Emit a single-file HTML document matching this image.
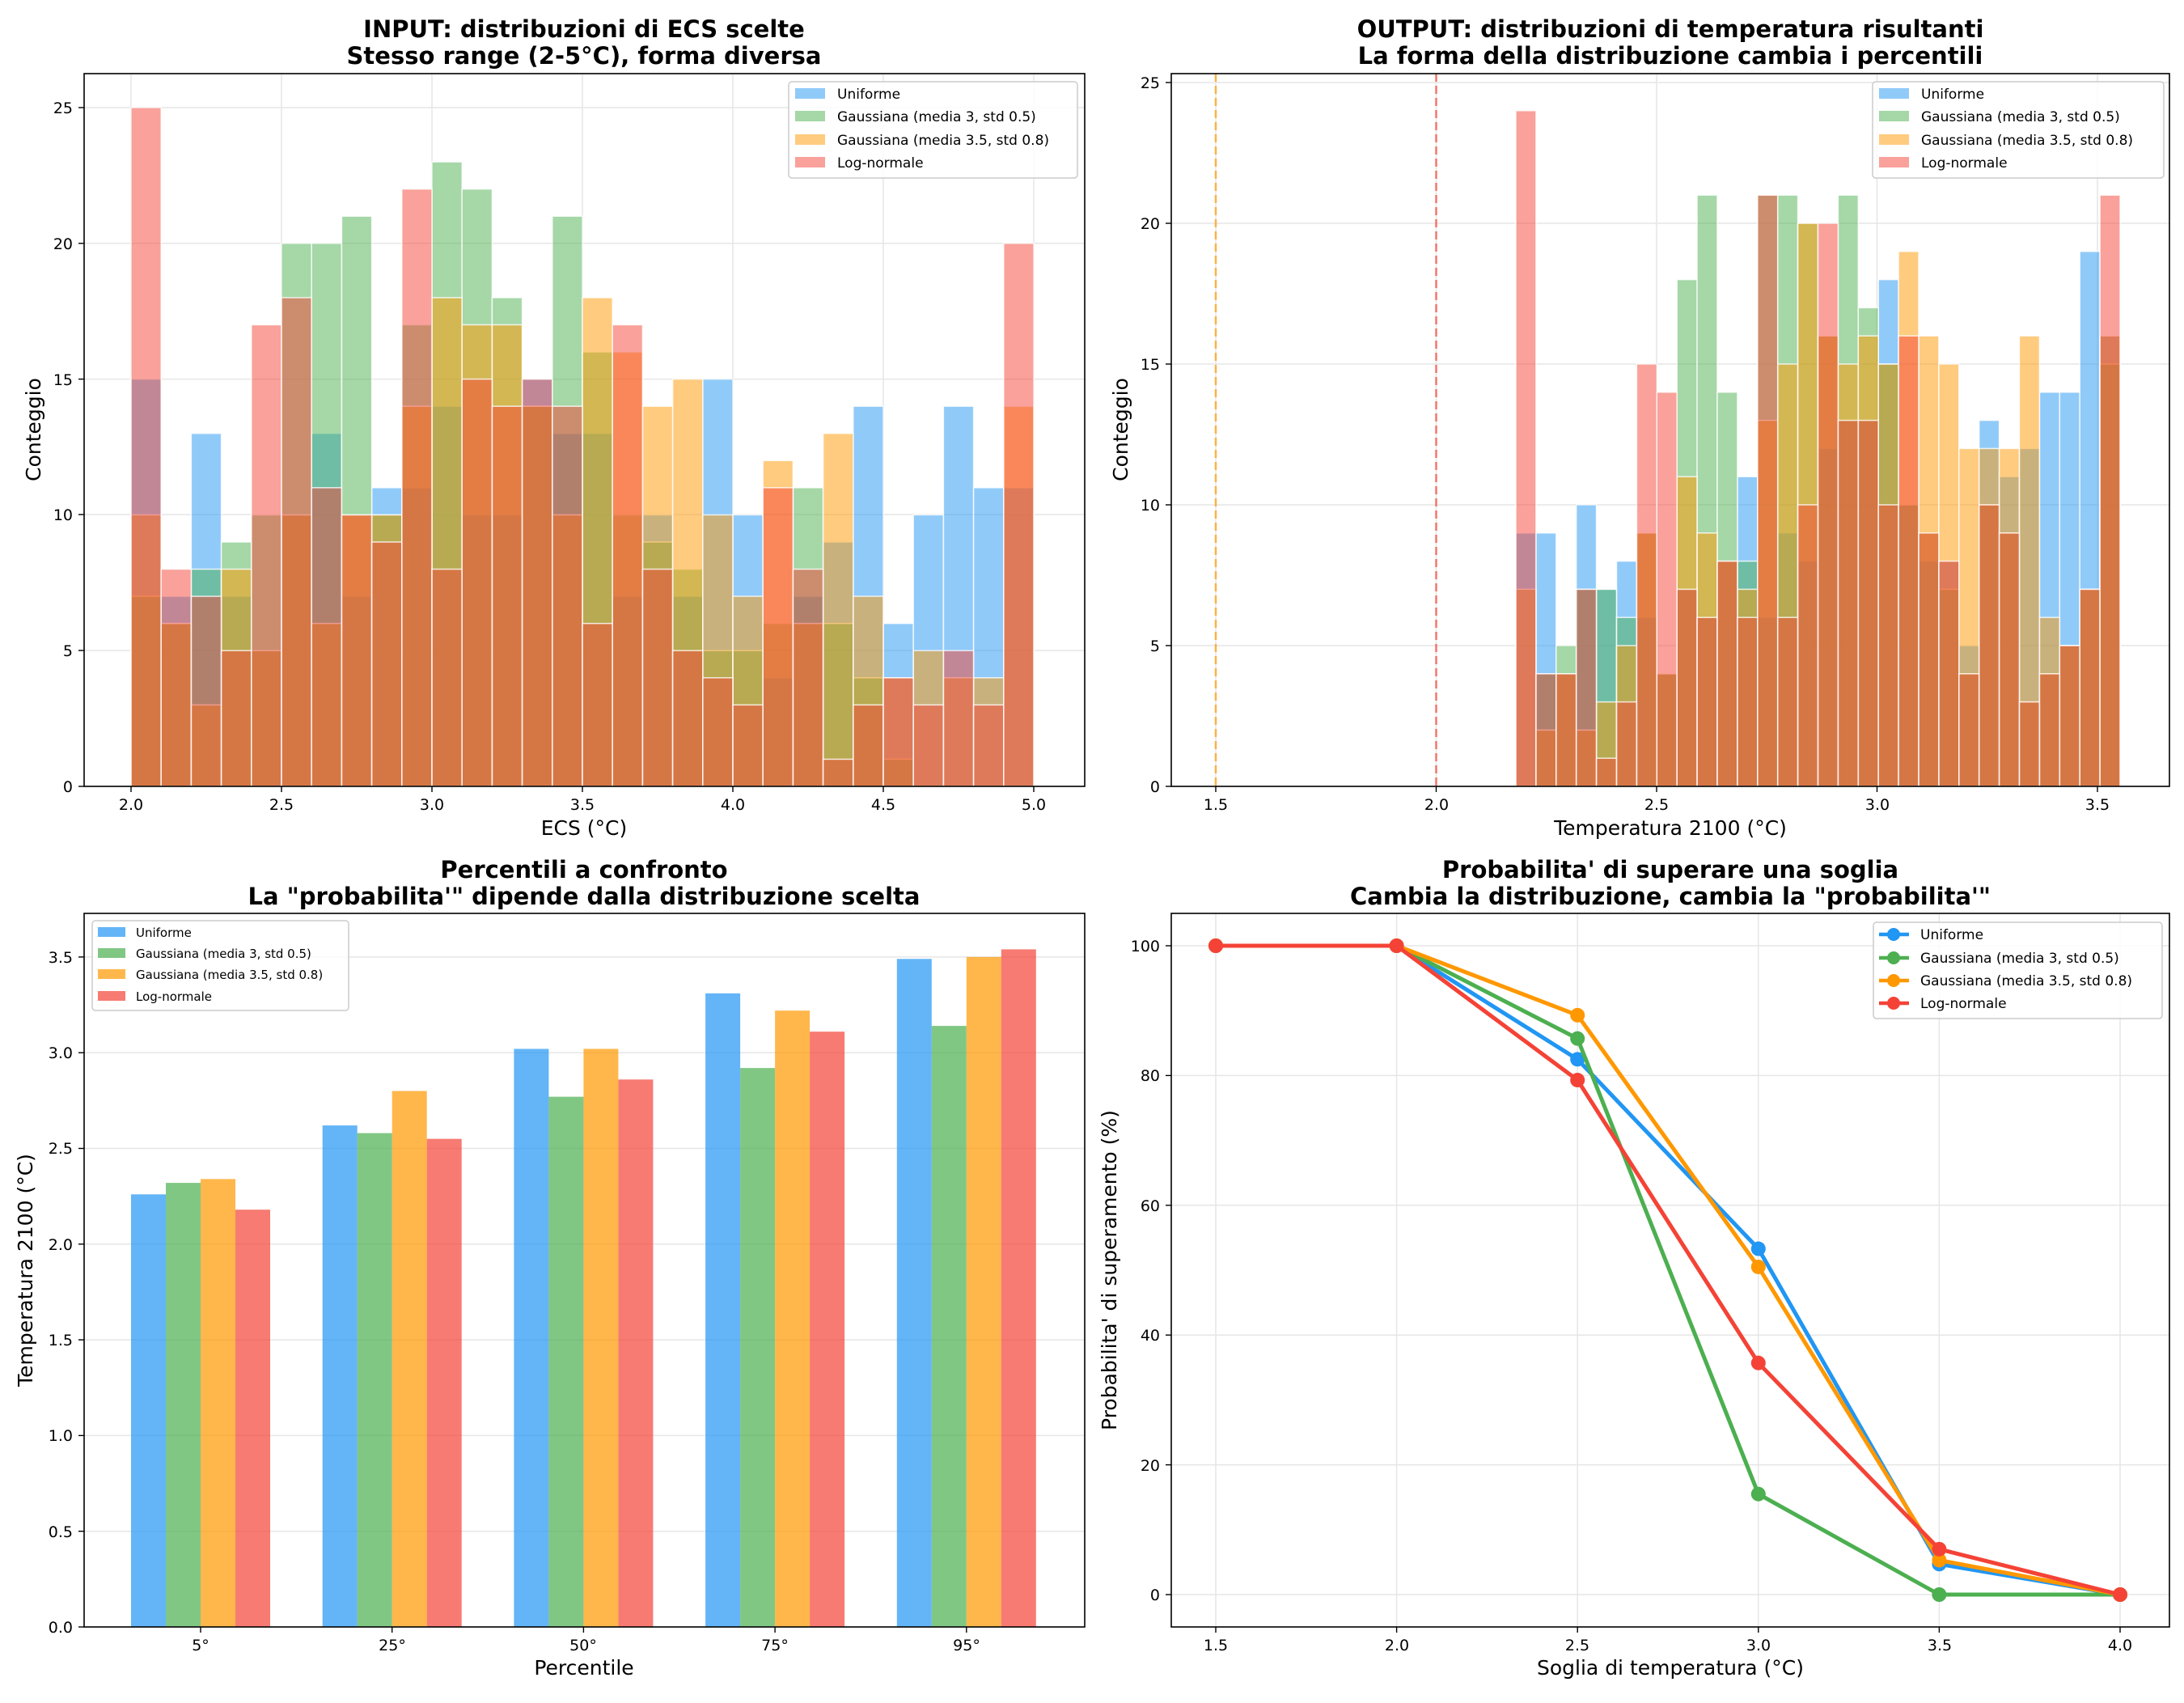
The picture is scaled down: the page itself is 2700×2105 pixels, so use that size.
<!DOCTYPE html>
<html><head><meta charset="utf-8"><style>
html,body{margin:0;padding:0;background:#fff}
svg text{font-family:"DejaVu Sans","Liberation Sans",sans-serif;fill:#000}
.t{font-size:29px;font-weight:bold;text-anchor:middle}
.al{font-size:25px;text-anchor:middle}
.tx{font-size:19px;text-anchor:middle}
.ty{font-size:19px;text-anchor:end}
.lg{font-size:17px}
</style></head><body>
<svg id="s" width="2700" height="2100" xmlns="http://www.w3.org/2000/svg">
<rect width="2700" height="2100" fill="#fff"/>
<g id="grid"></g>
<g id="data"></g>
<g fill="none" stroke="#000" stroke-width="1.6">
<rect x="104" y="91" width="1237" height="881"/>
<rect x="1448" y="91" width="1234" height="881"/>
<rect x="104" y="1129" width="1237" height="882"/>
<rect x="1448" y="1129" width="1234" height="882"/>
</g>
<g id="ticks" stroke="#000" stroke-width="1.4"></g>

<text class="t" x="722" y="46">INPUT: distribuzioni di ECS scelte</text>
<text class="t" x="722" y="79">Stesso range (2-5°C), forma diversa</text>
<text class="t" x="2065" y="46">OUTPUT: distribuzioni di temperatura risultanti</text>
<text class="t" x="2065" y="79">La forma della distribuzione cambia i percentili</text>
<text class="t" x="722" y="1085">Percentili a confronto</text>
<text class="t" x="722" y="1118">La "probabilita'" dipende dalla distribuzione scelta</text>
<text class="t" x="2065" y="1085">Probabilita' di superare una soglia</text>
<text class="t" x="2065" y="1118">Cambia la distribuzione, cambia la "probabilita'"</text>

<text class="al" x="722" y="1032">ECS (°C)</text>
<text class="al" transform="translate(50,531) rotate(-90)">Conteggio</text>
<text class="al" x="2065" y="1032">Temperatura 2100 (°C)</text>
<text class="al" transform="translate(1394,531) rotate(-90)">Conteggio</text>
<text class="al" x="722" y="2070">Percentile</text>
<text class="al" transform="translate(40,1570) rotate(-90)">Temperatura 2100 (°C)</text>
<text class="al" x="2065" y="2070">Soglia di temperatura (°C)</text>
<text class="al" transform="translate(1380,1570) rotate(-90)">Probabilita' di superamento (%)</text>

<text class="tx" x="162" y="1001">2.0</text><text class="tx" x="348" y="1001">2.5</text><text class="tx" x="534" y="1001">3.0</text><text class="tx" x="720" y="1001">3.5</text><text class="tx" x="906" y="1001">4.0</text><text class="tx" x="1092" y="1001">4.5</text><text class="tx" x="1278" y="1001">5.0</text>
<text class="ty" x="90" y="979">0</text><text class="ty" x="90" y="811">5</text><text class="ty" x="90" y="643">10</text><text class="ty" x="90" y="476">15</text><text class="ty" x="90" y="308">20</text><text class="ty" x="90" y="140">25</text>
<text class="tx" x="1503" y="1001">1.5</text><text class="tx" x="1776" y="1001">2.0</text><text class="tx" x="2048" y="1001">2.5</text><text class="tx" x="2321" y="1001">3.0</text><text class="tx" x="2593" y="1001">3.5</text>
<text class="ty" x="1434" y="979">0</text><text class="ty" x="1434" y="805">5</text><text class="ty" x="1434" y="631">10</text><text class="ty" x="1434" y="457">15</text><text class="ty" x="1434" y="283">20</text><text class="ty" x="1434" y="109">25</text>
<text class="tx" x="248" y="2040">5°</text><text class="tx" x="485" y="2040">25°</text><text class="tx" x="721" y="2040">50°</text><text class="tx" x="958" y="2040">75°</text><text class="tx" x="1195" y="2040">95°</text>
<text class="ty" x="90" y="2018">0.0</text><text class="ty" x="90" y="1900">0.5</text><text class="ty" x="90" y="1781">1.0</text><text class="ty" x="90" y="1663">1.5</text><text class="ty" x="90" y="1545">2.0</text><text class="ty" x="90" y="1426">2.5</text><text class="ty" x="90" y="1308">3.0</text><text class="ty" x="90" y="1190">3.5</text>
<text class="tx" x="1503" y="2040">1.5</text><text class="tx" x="1727" y="2040">2.0</text><text class="tx" x="1950" y="2040">2.5</text><text class="tx" x="2174" y="2040">3.0</text><text class="tx" x="2398" y="2040">3.5</text><text class="tx" x="2621" y="2040">4.0</text>
<text class="ty" x="1434" y="1978">0</text><text class="ty" x="1434" y="1818">20</text><text class="ty" x="1434" y="1657">40</text><text class="ty" x="1434" y="1497">60</text><text class="ty" x="1434" y="1336">80</text><text class="ty" x="1434" y="1176">100</text>

<g>
<rect x="975" y="101" width="357" height="119" rx="4" fill="#fff" fill-opacity="0.8" stroke="#ccc" stroke-width="1.5"/>
<rect x="983" y="109" width="37" height="13" fill="#2196F3" fill-opacity="0.5"/><text class="lg" x="1035" y="122">Uniforme</text>
<rect x="983" y="137" width="37" height="13" fill="#4CAF50" fill-opacity="0.5"/><text class="lg" x="1035" y="150">Gaussiana (media 3, std 0.5)</text>
<rect x="983" y="166" width="37" height="13" fill="#FF9800" fill-opacity="0.5"/><text class="lg" x="1035" y="179">Gaussiana (media 3.5, std 0.8)</text>
<rect x="983" y="194" width="37" height="13" fill="#F44336" fill-opacity="0.5"/><text class="lg" x="1035" y="207">Log-normale</text>
</g>
<g>
<rect x="2315" y="101" width="360" height="119" rx="4" fill="#fff" fill-opacity="0.8" stroke="#ccc" stroke-width="1.5"/>
<rect x="2323" y="109" width="37" height="13" fill="#2196F3" fill-opacity="0.5"/><text class="lg" x="2375" y="122">Uniforme</text>
<rect x="2323" y="137" width="37" height="13" fill="#4CAF50" fill-opacity="0.5"/><text class="lg" x="2375" y="150">Gaussiana (media 3, std 0.5)</text>
<rect x="2323" y="166" width="37" height="13" fill="#FF9800" fill-opacity="0.5"/><text class="lg" x="2375" y="179">Gaussiana (media 3.5, std 0.8)</text>
<rect x="2323" y="194" width="37" height="13" fill="#F44336" fill-opacity="0.5"/><text class="lg" x="2375" y="207">Log-normale</text>
</g>
<g>
<rect x="114" y="1138" width="317" height="111" rx="4" fill="#fff" fill-opacity="0.8" stroke="#ccc" stroke-width="1.5"/>
<rect x="121" y="1146" width="34" height="12" fill="#2196F3" fill-opacity="0.7"/><text class="lg" style="font-size:15px" x="168" y="1158">Uniforme</text>
<rect x="121" y="1172" width="34" height="12" fill="#4CAF50" fill-opacity="0.7"/><text class="lg" style="font-size:15px" x="168" y="1184">Gaussiana (media 3, std 0.5)</text>
<rect x="121" y="1198" width="34" height="12" fill="#FF9800" fill-opacity="0.7"/><text class="lg" style="font-size:15px" x="168" y="1210">Gaussiana (media 3.5, std 0.8)</text>
<rect x="121" y="1225" width="34" height="12" fill="#F44336" fill-opacity="0.7"/><text class="lg" style="font-size:15px" x="168" y="1237">Log-normale</text>
</g>
<g>
<rect x="2316" y="1140" width="357" height="119" rx="4" fill="#fff" fill-opacity="0.8" stroke="#ccc" stroke-width="1.5"/>
<line x1="2323" y1="1155" x2="2360" y2="1155" stroke="#2196F3" stroke-width="4.5"/><circle cx="2341" cy="1155" r="8" fill="#2196F3"/><text class="lg" x="2374" y="1161">Uniforme</text>
<line x1="2323" y1="1184" x2="2360" y2="1184" stroke="#4CAF50" stroke-width="4.5"/><circle cx="2341" cy="1184" r="8" fill="#4CAF50"/><text class="lg" x="2374" y="1190">Gaussiana (media 3, std 0.5)</text>
<line x1="2323" y1="1212" x2="2360" y2="1212" stroke="#FF9800" stroke-width="4.5"/><circle cx="2341" cy="1212" r="8" fill="#FF9800"/><text class="lg" x="2374" y="1218">Gaussiana (media 3.5, std 0.8)</text>
<line x1="2323" y1="1240" x2="2360" y2="1240" stroke="#F44336" stroke-width="4.5"/><circle cx="2341" cy="1240" r="8" fill="#F44336"/><text class="lg" x="2374" y="1246">Log-normale</text>
</g>
</svg>
<script>
var NS="http://www.w3.org/2000/svg";
function el(p,t,a){var e=document.createElementNS(NS,t);for(var k in a)e.setAttribute(k,a[k]);document.getElementById(p).appendChild(e);return e;}
var C=["#2196F3","#4CAF50","#FF9800","#F44336"];
function gx(x,y1,y2){el("grid","line",{x1:x,x2:x,y1:y1,y2:y2,stroke:"#e6e6e6","stroke-width":1.5});el("ticks","line",{x1:x,x2:x,y1:y2,y2:y2+7});}
function gy(y,x1,x2){el("grid","line",{x1:x1,x2:x2,y1:y,y2:y,stroke:"#e6e6e6","stroke-width":1.5});el("ticks","line",{x1:x1-7,x2:x1,y1:y,y2:y});}
[162,348,534,720,906,1092,1278].forEach(function(x){gx(x,91,972)});
[972,804,636,468.6,300.8,133].forEach(function(y){gy(y,104,1341)});
[1503,1775.5,2048,2320.5,2593].forEach(function(x){gx(x,91,972)});
[972,798,624,450,276,102].forEach(function(y){gy(y,1448,2682)});
var GS=236.7;
for(var i=0;i<5;i++)el("ticks","line",{x1:248+i*GS,x2:248+i*GS,y1:2011,y2:2018});
for(var i=0;i<8;i++)gy(2011-i*0.5*236.6,104,1341);
var PX=447.2;
for(var i=0;i<6;i++)gx(1503+i*0.5*PX,1129,2011);
for(var i=0;i<6;i++)gy(1971-i*20*8.02,1448,2682);
var H1=[[15,7,13,7,5,10,13,7,11,11,14,10,10,15,13,13,7,10,7,15,10,4,7,9,14,6,10,14,11,11],
[7,6,8,9,10,20,20,21,10,17,23,22,18,14,21,16,10,9,8,5,5,6,11,6,4,1,0,0,0,0],
[10,6,3,8,5,10,6,10,10,14,18,17,17,14,10,18,16,14,15,10,7,12,6,13,7,4,5,4,4,14],
[25,8,7,5,17,18,11,10,9,22,8,15,14,15,14,6,17,8,5,4,3,11,8,1,3,4,3,5,3,20]];
H1.forEach(function(a,s){a.forEach(function(c,i){if(!c)return;el("data","rect",{x:162+i*37.2,y:972-c*33.56,width:37.2,height:c*33.56,fill:C[s],"fill-opacity":0.5,stroke:"#fff","stroke-opacity":0.8,"stroke-width":1.5});});});
el("data","line",{x1:1503,x2:1503,y1:91,y2:972,stroke:"#FF9800","stroke-width":2.5,"stroke-dasharray":"10,5","stroke-opacity":0.7});
el("data","line",{x1:1775.5,x2:1775.5,y1:91,y2:972,stroke:"#F44336","stroke-width":2.5,"stroke-dasharray":"10,5","stroke-opacity":0.7});
var H2=[[9,9,4,10,7,8,6,4,7,6,8,11,6,9,8,12,13,13,18,10,8,8,5,13,11,12,14,14,19,16],
[0,4,5,7,7,6,9,4,18,21,14,8,21,21,20,16,21,17,15,10,9,7,4,10,9,3,4,5,7,15],
[7,2,4,2,3,5,9,4,11,9,8,7,13,15,20,16,15,16,15,19,16,15,12,12,12,16,6,5,7,16],
[24,4,4,7,1,3,15,14,7,6,8,6,21,6,10,20,13,13,10,16,9,8,4,10,9,3,4,5,7,21]];
H2.forEach(function(a,s){a.forEach(function(c,i){if(!c)return;el("data","rect",{x:1874+i*24.9,y:972-c*34.8,width:24.9,height:c*34.8,fill:C[s],"fill-opacity":0.5,stroke:"#fff","stroke-opacity":0.8,"stroke-width":1.5});});});
var P=[[2.26,2.32,2.34,2.18],[2.62,2.58,2.80,2.55],[3.02,2.77,3.02,2.86],[3.31,2.92,3.22,3.11],[3.49,3.14,3.50,3.54]];
P.forEach(function(g,i){g.forEach(function(v,s){el("data","rect",{x:248+i*GS+(s-2)*43,y:2011-v*236.6,width:43,height:v*236.6,fill:C[s],"fill-opacity":0.7});});});
var X=[1.5,2,2.5,3,3.5,4];
var L=[[100,100,82.5,53.3,4.7,0],[100,100,85.7,15.5,0,0],[100,100,89.3,50.5,5.3,0],[100,100,79.3,35.7,7,0]];
L.forEach(function(a,s){var pts=a.map(function(p,i){return (1503+(X[i]-1.5)*PX)+","+(1971-p*8.02)}).join(" ");
el("data","polyline",{points:pts,fill:"none",stroke:C[s],"stroke-width":5,"stroke-linejoin":"round"});
a.forEach(function(p,i){el("data","circle",{cx:1503+(X[i]-1.5)*PX,cy:1971-p*8.02,r:9,fill:C[s]});});});
</script>
</body></html>
